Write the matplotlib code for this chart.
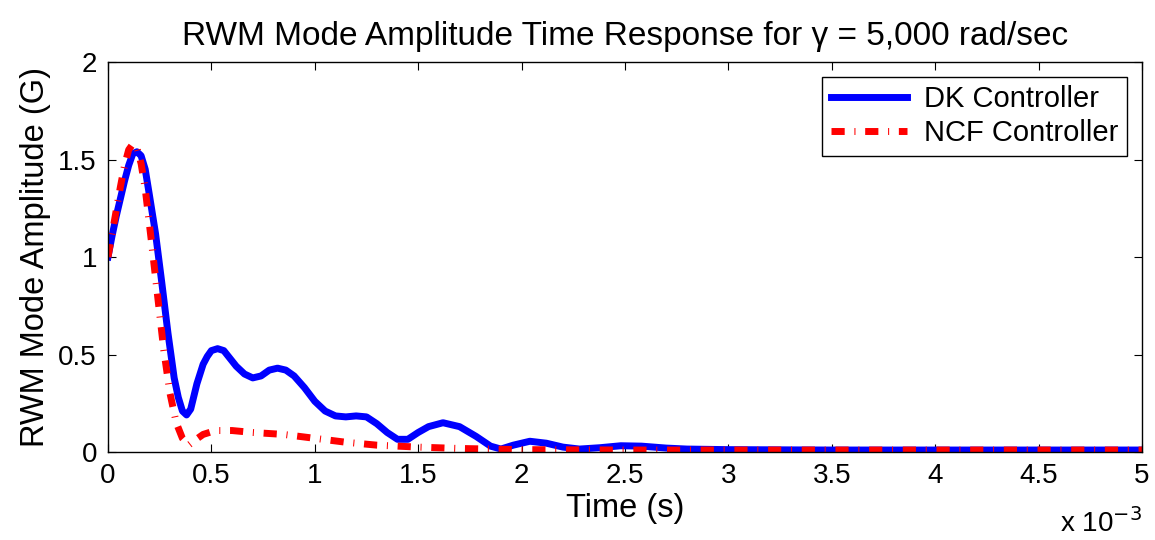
import numpy as np
import matplotlib
matplotlib.use('Agg')
import matplotlib.pyplot as plt

plt.rcParams['font.family'] = ['Liberation Sans', 'DejaVu Sans']

# Blue curve (DK Controller) - time in ms, amplitude in G
t_dk = [0.0, 0.02, 0.04, 0.06, 0.08, 0.10, 0.12, 0.14, 0.16, 0.18, 0.20, 0.23, 0.26, 0.29,
        0.32, 0.34, 0.36, 0.38, 0.40, 0.43, 0.46, 0.48, 0.50, 0.53, 0.56, 0.59, 0.62, 0.66,
        0.70, 0.74, 0.78, 0.82, 0.86, 0.90, 0.95, 1.00, 1.05, 1.10, 1.15, 1.20, 1.25, 1.30,
        1.35, 1.40, 1.45, 1.50, 1.55, 1.62, 1.70, 1.78, 1.85, 1.90, 1.96, 2.04, 2.12, 2.20,
        2.28, 2.38, 2.48, 2.58, 2.70, 2.80, 3.0, 3.5, 4.0, 4.5, 5.0]
y_dk = [1.00, 1.11, 1.21, 1.30, 1.39, 1.47, 1.53, 1.54, 1.52, 1.45, 1.32, 1.12, 0.87, 0.61,
        0.38, 0.28, 0.21, 0.19, 0.22, 0.35, 0.45, 0.49, 0.52, 0.53, 0.52, 0.48, 0.44, 0.40,
        0.38, 0.39, 0.42, 0.43, 0.42, 0.39, 0.33, 0.26, 0.21, 0.185, 0.18, 0.185, 0.18, 0.145,
        0.10, 0.065, 0.065, 0.10, 0.13, 0.15, 0.13, 0.08, 0.03, 0.015, 0.035, 0.055, 0.045, 0.025,
        0.015, 0.022, 0.032, 0.03, 0.02, 0.015, 0.012, 0.01, 0.01, 0.01, 0.01]

# Red curve (NCF Controller)
t_ncf = [0.0, 0.02, 0.04, 0.06, 0.08, 0.10, 0.12, 0.14, 0.16, 0.18, 0.21, 0.24, 0.27, 0.30,
         0.33, 0.36, 0.39, 0.42, 0.46, 0.52, 0.60, 0.70, 0.85, 1.0, 1.15, 1.3, 1.5, 1.7,
         2.0, 2.5, 3.0, 5.0]
y_ncf = [1.0, 1.12, 1.24, 1.36, 1.47, 1.55, 1.58, 1.56, 1.48, 1.35, 1.08, 0.80, 0.52, 0.30,
         0.15, 0.07, 0.035, 0.06, 0.09, 0.11, 0.11, 0.10, 0.09, 0.07, 0.05, 0.035, 0.025, 0.018,
         0.012, 0.01, 0.01, 0.01]

xticks = [0, 0.5, 1, 1.5, 2, 2.5, 3, 3.5, 4, 4.5, 5]
yticks = [0, 0.5, 1, 1.5, 2]

fig = plt.figure(figsize=(11.55, 5.4), dpi=100)
ax = fig.add_axes([0.0935, 0.163, 0.8952, 0.722])

ax.plot(np.array(t_dk) * 1e-3, y_dk, color='#0000ff', lw=5, label='DK Controller')
ax.plot(np.array(t_ncf) * 1e-3, y_ncf, color='#ff0000', lw=5,
        dashes=(1.9, 1.4, 0.15, 1.4), label='NCF Controller')

ax.set_xlim(0, 5e-3)
ax.set_ylim(0, 2)
ax.set_xticks(np.array(xticks) * 1e-3)
ax.set_xticklabels(['%g' % v for v in xticks])
ax.set_yticks(yticks)
ax.set_yticklabels(['%g' % v for v in yticks])
ax.tick_params(direction='in', top=True, right=True, labelsize=20, length=6, pad=8)
for s in ax.spines.values():
    s.set_linewidth(1.0)

ax.set_xlabel('Time (s)', fontsize=23.5, labelpad=3)
ax.set_ylabel('RWM Mode Amplitude (G)', fontsize=23.5, labelpad=5)
ax.set_title('RWM Mode Amplitude Time Response for γ = 5,000 rad/sec', fontsize=24, pad=12)
ax.text(1.0, -0.145, r'x 10$^{-3}$', transform=ax.transAxes, ha='right', va='top', fontsize=20)

leg = ax.legend(loc='upper right', fontsize=21, fancybox=False, edgecolor='black',
                handlelength=2.6, borderaxespad=0.5, framealpha=1,
                borderpad=0.3, labelspacing=0.2, handletextpad=0.6)
leg.get_frame().set_linewidth(1.0)

plt.savefig('out.png', dpi=100)
